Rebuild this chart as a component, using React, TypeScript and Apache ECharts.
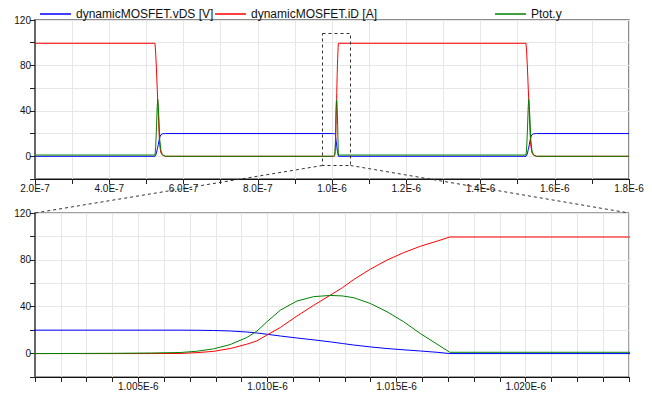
import React, { useEffect, useRef } from "react";
import * as echarts from "echarts";

// time in nanoseconds
const timeNs = [
  200,
  523.2, 525.2, 527.2, 529.2, 530.7, 532.2, 534.2, 536.2, 539.2, 543.2, 551.2,
  1001, 1004, 1005.5, 1006.62, 1007.27, 1007.91, 1008.56, 1009.2, 1009.59, 1009.98, 1010.5,
  1011.14, 1011.79, 1012.43, 1012.9, 1013.34, 1013.98, 1014.63, 1015.28, 1015.92, 1016.57, 1017.06,
  1522.6, 1524.6, 1526.6, 1528.6, 1530.1, 1531.6, 1533.6, 1535.6, 1538.6, 1542.6, 1550.6,
  1800,
];
const vDS = [
  0,
  0, 1, 3, 6, 8, 10.5, 14, 17, 19, 19.8, 20,
  20, 20, 20, 20, 19.9, 19.7, 19.3, 18.4, 17.6, 16.5, 15,
  13.3, 11.7, 10, 8.6, 7.3, 5.7, 4.3, 3.2, 2.2, 1.1, 0,
  0, 1, 3, 6, 8, 10.5, 14, 17, 19, 19.8, 20,
  20,
];
const iD = [
  99.5,
  99.5, 90, 76, 60, 48, 36, 20, 9, 3, 1, 0,
  0, 0, 0, 0.1, 0.8, 1.9, 4.3, 8, 10.8, 15.8, 22.3,
  32, 41.2, 49.8, 56.2, 63.2, 72, 79.8, 86.2, 91.6, 96, 99.5,
  99.5, 90, 76, 60, 48, 36, 20, 9, 3, 1, 0,
  0,
];
const ptot = [
  1.1,
  1.1, 9, 25, 44, 50, 44, 30, 14, 5, 1.5, 0,
  0, 0.2, 0.5, 0.9, 2, 4, 7.7, 13.7, 19.1, 27.1, 37.1,
  44.8, 48.6, 49.6, 49.2, 47.7, 42.8, 35.7, 27.1, 17.1, 8, 1.1,
  1.1, 9, 25, 44, 50, 44, 30, 14, 5, 1.5, 0,
  0,
];

const seriesNames = ["dynamicMOSFET.vDS [V]", "dynamicMOSFET.iD [A]", "Ptot.y"];
const seriesColors = ["#0000ff", "#ff0000", "#008000"];
const yTicks = [-20, 0, 20, 40, 60, 80, 100, 120];

function fmtTime(ns: number, digits: number): string {
  const s = ns * 1e-9;
  const e = Math.floor(Math.log10(s) + 1e-9);
  const m = s / Math.pow(10, e);
  return m.toFixed(digits) + "E" + e;
}

export default function App() {
  const ref = useRef<HTMLDivElement>(null);
  useEffect(() => {
    if (!ref.current) return;
    const chart = echarts.init(ref.current, null, { renderer: "svg" });
    const values = [vDS, iD, ptot];
    const pairs = values.map((arr) => timeNs.map((t, i) => [t, arr[i]]));
    const font = "'Liberation Sans', Arial, sans-serif";

    const yAxisBase = (gridIndex: number) => ({
      type: "value" as const,
      gridIndex,
      min: yTicks[0],
      max: yTicks[yTicks.length - 1],
      interval: 20,
      axisLine: { show: true, lineStyle: { color: "#666", width: 2 } },
      axisTick: { show: true, length: 5, lineStyle: { color: "#222" } },
      axisLabel: {
        fontSize: 10,
        color: "#111",
        fontFamily: font,
        margin: 4,
        formatter: (v: number) => (Math.round(v) % 40 === 0 && v >= 0 ? String(Math.round(v)) : ""),
      },
      splitLine: { show: true, lineStyle: { color: "#e6e6e6", width: 1 } },
    });

    const series: any[] = [];
    for (let g = 0; g < 2; g++) {
      for (let k = 0; k < 3; k++) {
        series.push({
          type: "line",
          name: seriesNames[k],
          xAxisIndex: g,
          yAxisIndex: g,
          data: pairs[k],
          symbol: "none",
          showSymbol: false,
          clip: true,
          lineStyle: { color: seriesColors[k], width: 1 },
          itemStyle: { color: seriesColors[k] },
        });
      }
    }

    const legendLefts = [35, 210, 490];
    const dash = { stroke: "#333", lineWidth: 1, lineDash: [3, 3], fill: "none" };

    chart.setOption({
      animation: false,
      textStyle: { fontFamily: font },
      legend: seriesNames.map((n, i) => ({
        data: [n],
        left: legendLefts[i],
        top: 3,
        icon: "rect",
        itemWidth: 31,
        itemHeight: 1.5,
        itemGap: 5,
        textStyle: { fontSize: 12, color: "#111", fontFamily: font },
      })),
      grid: [
        { left: 35, right: 23, top: 20, height: 159, show: true, borderColor: "#666", borderWidth: 1.5, backgroundColor: "transparent" },
        { left: 35, right: 23, top: 213, height: 164, show: true, borderColor: "#444", borderWidth: 1, backgroundColor: "transparent" },
      ],
      xAxis: [
        {
          type: "value",
          gridIndex: 0,
          min: 200,
          max: 1800,
          interval: 100,
          axisLine: { show: true, onZero: false, lineStyle: { color: "#111", width: 1 } },
          axisTick: { show: true, length: 5, lineStyle: { color: "#222" } },
          axisLabel: {
            fontSize: 10,
            color: "#111",
            fontFamily: font,
            margin: 4,
            showMinLabel: true,
            showMaxLabel: true,
            formatter: (v: number) => (Math.round(v) % 200 === 0 ? fmtTime(Math.round(v), 1) : ""),
          },
          splitLine: { show: true, lineStyle: { color: "#e6e6e6", width: 1 } },
        },
        {
          type: "value",
          gridIndex: 1,
          min: 1001,
          max: 1024,
          interval: 1,
          axisLine: { show: true, onZero: false, lineStyle: { color: "#111", width: 1 } },
          axisTick: { show: true, length: 5, lineStyle: { color: "#222" } },
          axisLabel: {
            fontSize: 10,
            color: "#111",
            fontFamily: font,
            margin: 4,
            formatter: (v: number) => (Math.round(v) % 5 === 0 ? fmtTime(Math.round(v), 3) : ""),
          },
          splitLine: { show: true, lineStyle: { color: "#e6e6e6", width: 1 } },
        },
      ],
      yAxis: [yAxisBase(0), yAxisBase(1)],
      series,
      graphic: [
        { type: "rect", shape: { x: 322.5, y: 33.5, width: 28, height: 132 }, style: dash, z: 100 },
        { type: "line", shape: { x1: 322.5, y1: 165.5, x2: 35, y2: 213 }, style: dash, z: 100 },
        { type: "line", shape: { x1: 350.5, y1: 165.5, x2: 629, y2: 213 }, style: dash, z: 100 },
      ],
    });
    return () => chart.dispose();
  }, []);
  return (
    <div
      ref={ref}
      style={{ position: "absolute", left: 0, top: 0, width: 652, height: 394, background: "#fff" }}
    />
  );
}
